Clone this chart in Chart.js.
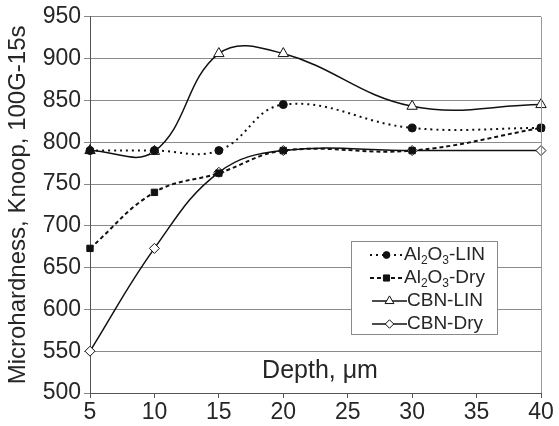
<!DOCTYPE html>
<html>
<head>
<meta charset="utf-8">
<script src="https://cdn.jsdelivr.net/npm/chart.js@4/dist/chart.umd.min.js"></script>
<style>
html,body{margin:0;padding:0;background:#fff;}
#wrap{width:559px;height:426px;position:relative;}
</style>
</head>
<body>
<div id="wrap"><canvas id="c" width="559" height="426"></canvas></div>
<script>
const depths = [5, 10, 15, 20, 30, 40];
const al2o3Lin = [790, 790, 790, 845, 817, 817];
const al2o3Dry = [673, 740, 763, 790, 790, 817];
const cbnLin = [790, 789, 906, 906, 843, 845];
const cbnDry = [550, 673, 764, 790, 790, 790];
const xTicks = [5, 10, 15, 20, 25, 30, 35, 40];
const yTicks = [500, 550, 600, 650, 700, 750, 800, 850, 900, 950];
const seriesNames = ['Al2O3-LIN', 'Al2O3-Dry', 'CBN-LIN', 'CBN-Dry'];
const yTitle = 'Microhardness, Knoop, 100G-15s';
const xTitle = 'Depth, \u03bcm';

const FONT = '"Liberation Sans", Arial, sans-serif';
const TXT = '#262626';

function pts(vals){ return depths.map((d,i)=>({x:d,y:vals[i]})); }

const styles = [
  {dash:[2,4], width:2, marker:'circle', fill:'#111', r:4},
  {dash:[4,3], width:2, marker:'rect', fill:'#111', r:4.5},
  {dash:[], width:1.5, marker:'triangle', fill:'#fff', r:6},
  {dash:[], width:1.5, marker:'rectRot', fill:'#fff', r:5}
];
const allVals = [al2o3Lin, al2o3Dry, cbnLin, cbnDry];

const datasets = allVals.map((v,i)=>({
  label: seriesNames[i],
  data: pts(v),
  borderColor: '#111',
  borderWidth: styles[i].width,
  borderDash: styles[i].dash,
  tension: 0.4,
  pointStyle: styles[i].marker,
  pointRadius: styles[i].r,
  pointBackgroundColor: styles[i].fill,
  pointBorderColor: '#111',
  pointBorderWidth: 1,
  fill: false,
  clip: false
}));

function drawMarker(ctx, type, x, y, r, fill){
  ctx.save();
  ctx.setLineDash([]);
  ctx.beginPath();
  if(type==='circle'){ ctx.arc(x,y,r,0,Math.PI*2); }
  else if(type==='rect'){ ctx.rect(x-r*0.8,y-r*0.8,r*1.6,r*1.6); }
  else if(type==='triangle'){ ctx.moveTo(x,y-r); ctx.lineTo(x+r*0.87,y+r*0.5); ctx.lineTo(x-r*0.87,y+r*0.5); ctx.closePath(); }
  else { ctx.moveTo(x,y-r); ctx.lineTo(x+r,y); ctx.lineTo(x,y+r); ctx.lineTo(x-r,y); ctx.closePath(); }
  ctx.fillStyle = fill; ctx.fill();
  ctx.lineWidth = 1; ctx.strokeStyle = '#111'; ctx.stroke();
  ctx.restore();
}

function drawLabel(ctx, name, x, y){
  const size = 19;
  let parts;
  if(name.startsWith('Al2O3')){
    parts = [['Al',0],['2',1],['O',0],['3',1],[name.slice(5),0]];
  } else parts = [[name,0]];
  let cx = x;
  ctx.textBaseline = 'middle';
  ctx.textAlign = 'left';
  ctx.fillStyle = TXT;
  for(const [t,sub] of parts){
    ctx.font = (sub? 12 : size) + 'px ' + FONT;
    ctx.fillText(t, cx, y + (sub? 6 : 0));
    cx += ctx.measureText(t).width;
  }
}

const extras = {
  id:'extras',
  afterDraw(chart){
    const {ctx, chartArea:a} = chart;
    ctx.save();
    ctx.strokeStyle = '#9a9a9a'; ctx.lineWidth = 1;
    ctx.beginPath(); ctx.moveTo(Math.round(a.right)+0.5, a.top); ctx.lineTo(Math.round(a.right)+0.5, a.bottom); ctx.stroke();
    ctx.font = '25px ' + FONT; ctx.fillStyle = TXT; ctx.textAlign='center'; ctx.textBaseline='middle';
    ctx.fillText(xTitle, 320, a.bottom - 22);
    const bx = 351.5, by = 241.5, bw = 146, bh = 93;
    ctx.fillStyle = '#fff'; ctx.fillRect(bx,by,bw,bh);
    ctx.strokeStyle = '#8a8a8a'; ctx.lineWidth = 1; ctx.strokeRect(bx,by,bw,bh);
    const rows = [255, 278, 301, 324];
    const lx = [[370,403,404],[370,403,404],[372,407,407],[372,407,407]];
    rows.forEach((ry,i)=>{
      const s = styles[i];
      ctx.save();
      ctx.strokeStyle = '#111'; ctx.lineWidth = s.width; ctx.setLineDash(s.dash);
      ctx.beginPath(); ctx.moveTo(lx[i][0], ry); ctx.lineTo(lx[i][1], ry); ctx.stroke();
      ctx.restore();
      drawMarker(ctx, s.marker, (lx[i][0]+lx[i][1])/2, ry, s.r*0.85, s.fill);
      drawLabel(ctx, seriesNames[i], lx[i][2], ry);
    });
    ctx.restore();
  }
};

new Chart(document.getElementById('c'), {
  type:'line',
  data:{datasets},
  plugins:[extras],
  options:{
    responsive:false,
    animation:false,
    events:[],
    layout:{padding:{top:8, right:18, left:0, bottom:0}},
    plugins:{legend:{display:false}, tooltip:{enabled:false}},
    scales:{
      x:{
        type:'linear', min:5, max:40,
        afterBuildTicks(s){ s.ticks = xTicks.map(v=>({value:v})); },
        grid:{drawOnChartArea:false, color:'#555', tickLength:5},
        border:{color:'#555', width:1},
        ticks:{font:{size:23, family:FONT}, color:TXT, padding:1, maxRotation:0, autoSkip:false},
        afterFit(s){ s.height = 33; }
      },
      y:{
        min:500, max:950,
        afterBuildTicks(s){ s.ticks = yTicks.map(v=>({value:v})); },
        grid:{color:'#8a8a8a', tickLength:6},
        border:{color:'#555', width:1},
        ticks:{font:{size:23, family:FONT}, color:TXT, padding:3, autoSkip:false},
        title:{display:true, text:yTitle, font:{size:24, family:FONT}, color:TXT, padding:{top:4,bottom:0}},
        afterFit(s){ s.width = 90; }
      }
    }
  }
});
</script>
</body>
</html>
